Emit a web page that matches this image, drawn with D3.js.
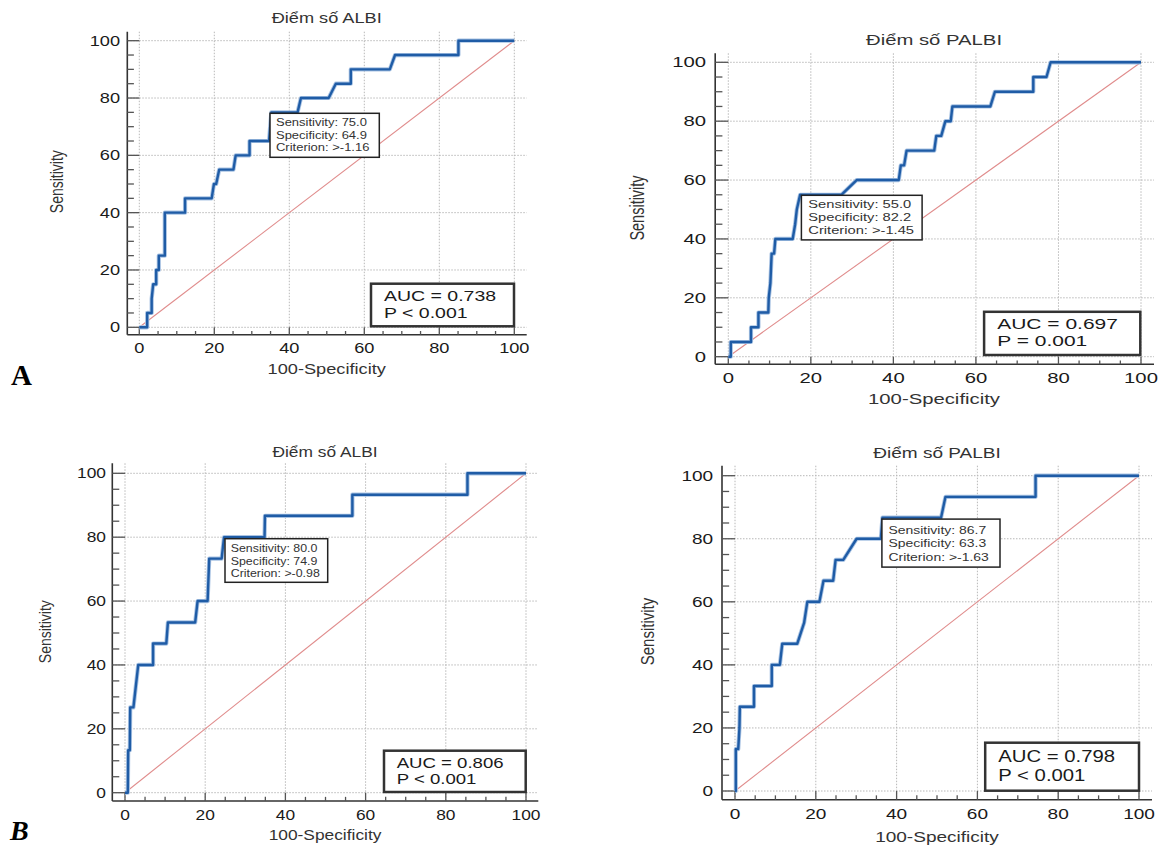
<!DOCTYPE html>
<html>
<head>
<meta charset="utf-8">
<script src="https://cdn.jsdelivr.net/npm/d3@7"></script>
<style>
  body { margin: 0; background: #fff; }
  svg { display: block; font-family: 'Liberation Sans', Arial, sans-serif; }
  .grid { stroke: #b8b8b8; stroke-width: 1; stroke-dasharray: 1.5 1.5; }
  .axis { stroke: #333; stroke-width: 1.6; }
  .tick { stroke: #555; stroke-width: 1.3; }
</style>
</head>
<body>
<svg width="1162" height="846"></svg>
<script>
'use strict'

// chart values
const panelTitles = ['Điểm số ALBI', 'Điểm số PALBI', 'Điểm số ALBI', 'Điểm số PALBI']
const xTitle = '100-Specificity'
const yTitle = 'Sensitivity'
const majorTicks = [0, 20, 40, 60, 80, 100]
const minorTicks = [5, 10, 15, 25, 30, 35, 45, 50, 55, 65, 70, 75, 85, 90, 95]

const albiTopFpr = [0, 2.1, 2.1, 3.3, 3.3, 3.7, 4.5, 4.5, 5.2, 5.2, 6.8, 6.8, 12.2, 12.2, 19.3, 19.9, 20.5, 21.3, 25.1, 25.7,
    29.4, 29.4, 34.6, 34.9, 35.2, 42.2, 43.1, 50.5, 52.4, 56.4, 56.4, 66.8, 68.2, 85.1, 85.1, 100]
const albiTopSens = [0, 0, 5, 5, 10, 15, 15, 20, 20, 25, 25, 40, 40, 45, 45, 50, 50, 55, 55, 60,
    60, 65, 65, 70, 75, 75, 80, 80, 85, 85, 90, 90, 95, 95, 100, 100]

const palbiTopFpr = [0, 0.6, 0.6, 5.5, 5.5, 7.3, 7.3, 9.7, 9.8, 10.2, 10.5, 11.1, 11.4, 15.6, 16.2, 16.6, 17.4, 27.4, 31.1, 41.3,
    41.8, 42.6, 43.2, 49.9, 50.4, 51.6, 52.6, 53.9, 54.3, 63.5, 64.6, 73.9, 73.9, 77.1, 78.1, 100]
const palbiTopSens = [0, 0, 5, 5, 10, 10, 15, 15, 20, 25, 35, 35, 40, 40, 45, 50, 55, 55, 60, 60,
    65, 65, 70, 70, 75, 75, 80, 80, 85, 85, 90, 90, 95, 95, 100, 100]

const albiBottomFpr = [0, 0.7, 0.8, 1.2, 1.3, 2.1, 3.3, 7.0, 7.0, 10.3, 10.7, 17.5, 18.1, 20.6, 21.0, 24.1, 24.7, 34.8,
    34.9, 56.7, 56.7, 85.4, 85.4, 100]
const albiBottomSens = [0, 0, 13.3, 13.3, 26.7, 26.7, 40, 40, 46.7, 46.7, 53.3, 53.3, 60, 60, 73.3, 73.3, 80, 80,
    86.7, 86.7, 93.3, 93.3, 100, 100]

const palbiBottomFpr = [0, 0.2, 0.2, 0.8, 1.1, 1.2, 4.7, 4.7, 9.1, 9.1, 11.1, 11.7, 15.4, 17.1, 17.9, 20.9, 21.9, 24.3,
    24.9, 26.8, 30.1, 36.1, 36.5, 51.0, 52.1, 74.4, 74.4, 100]
const palbiBottomSens = [0, 0, 13.3, 13.3, 20, 26.7, 26.7, 33.3, 33.3, 40, 40, 46.7, 46.7, 53.3, 60, 60, 66.7, 66.7,
    73.3, 73.3, 80, 80, 86.7, 86.7, 93.3, 93.3, 100, 100]

const cutSens = ['75.0', '55.0', '80.0', '86.7']
const cutSpec = ['64.9', '82.2', '74.9', '63.3']
const cutCrit = ['>-1.16', '>-1.45', '>-0.98', '>-1.63']
const aucValues = ['0.738', '0.697', '0.806', '0.798']
const pTexts = ['P < 0.001', 'P = 0.001', 'P < 0.001', 'P < 0.001']

const curves = [
    [albiTopFpr, albiTopSens],
    [palbiTopFpr, palbiTopSens],
    [albiBottomFpr, albiBottomSens],
    [palbiBottomFpr, palbiBottomSens]
]

// where each panel sits on the page (the source panels are stretched sideways)
const layout = [
    { x0: 139.3, x1: 514.3, y0: 327.3, y1: 40.7, axL: 127.3, axB: 334.7, axT: 31.7, axR: 526.7,
      titleX: 326.7, titleY: 18.3, xlabY: 369.3, ylabX: 56.7, ylabY: 181.7, yTickX: 120, xTickY: 347.7,
      note: [270, 113.3, 379.3, 157.3], noteX: 276, noteY: [122.7, 135.3, 147.7],
      auc: [371, 283.7, 514, 326.3], aucX: 384, aucY: [295.7, 312.3], fs: 14, sx: 1.3, noteFs: 10, aucFs: 15 },
    { x0: 728.3, x1: 1141, y0: 356.7, y1: 62.3, axL: 715.2, axB: 364.3, axT: 53.3, axR: 1154,
      titleX: 934, titleY: 40, xlabY: 399.2, ylabX: 637, ylabY: 208, yTickX: 706, xTickY: 377.6,
      note: [801.4, 195.3, 922.1, 239.9], noteX: 808.3, noteY: [204.7, 217.6, 230.6],
      auc: [984.1, 311.8, 1140.3, 355], aucX: 997.2, aucY: [323.4, 341], fs: 14.5, sx: 1.4, noteFs: 10.5, aucFs: 15 },
    { x0: 125, x1: 526, y0: 792.7, y1: 473.3, axL: 112.3, axB: 801, axT: 463.3, axR: 538.3,
      titleX: 325, titleY: 451.7, xlabY: 835, ylabX: 45, ylabY: 631.7, yTickX: 106, xTickY: 815,
      note: [225, 538.7, 327.7, 582.3], noteX: 230.7, noteY: [548.3, 561, 573.7],
      auc: [384, 750.7, 525.7, 792], aucX: 396.7, aucY: [762.7, 779], fs: 14, sx: 1.24, noteFs: 10, aucFs: 15 },
    { x0: 735, x1: 1139, y0: 791, y1: 475.7, axL: 722, axB: 799.7, axT: 465.7, axR: 1152,
      titleX: 937, titleY: 452.3, xlabY: 836.8, ylabX: 647.6, ylabY: 631.5, yTickX: 713.2, xTickY: 813.4,
      note: [881.9, 519.1, 1000, 567.1], noteX: 888.4, noteY: [529.8, 543.4, 557.1],
      auc: [985.2, 742.7, 1139, 790.7], aucX: 998.3, aucY: [756, 775], fs: 15, sx: 1.27, noteFs: 11, aucFs: 16 }
]

const svg = d3.select('svg')

function label(g, x, y, str, size, sx, anchor, rotate) {
    const tf = rotate
        ? `translate(${x},${y}) rotate(-90) scale(1,${sx})`
        : `translate(${x},${y}) scale(${sx},1)`
    return g.append('text')
        .attr('transform', tf)
        .attr('text-anchor', anchor)
        .attr('dy', '0.35em')
        .style('font-size', size + 'px')
        .attr('fill', '#1a1a1a')
        .text(str)
}

layout.forEach((L, i) => {
    const g = svg.append('g')
    const x = d3.scaleLinear().domain([0, 100]).range([L.x0, L.x1])
    const y = d3.scaleLinear().domain([0, 100]).range([L.y0, L.y1])

    // dotted grid
    g.selectAll('.vg').data(majorTicks).enter().append('line')
        .attr('class', 'grid')
        .attr('x1', d => x(d)).attr('x2', d => x(d))
        .attr('y1', L.axT).attr('y2', L.axB)
    g.selectAll('.hg').data(majorTicks).enter().append('line')
        .attr('class', 'grid')
        .attr('x1', L.axL).attr('x2', L.axR)
        .attr('y1', d => y(d)).attr('y2', d => y(d))

    // axes with ticks pointing into the gap
    g.append('line').attr('class', 'axis')
        .attr('x1', L.axL).attr('x2', L.axL).attr('y1', L.axT).attr('y2', L.axB)
    g.append('line').attr('class', 'axis')
        .attr('x1', L.axL).attr('x2', L.axR).attr('y1', L.axB).attr('y2', L.axB)

    const gapX = L.x0 - L.axL
    const gapY = L.axB - L.y0
    g.selectAll('.ytm').data(majorTicks).enter().append('line')
        .attr('class', 'tick')
        .attr('x1', L.axL).attr('x2', L.axL + gapX)
        .attr('y1', d => y(d)).attr('y2', d => y(d))
    g.selectAll('.ytn').data(minorTicks).enter().append('line')
        .attr('class', 'tick')
        .attr('x1', L.axL).attr('x2', L.axL + gapX * 0.55)
        .attr('y1', d => y(d)).attr('y2', d => y(d))
    g.selectAll('.xtm').data(majorTicks).enter().append('line')
        .attr('class', 'tick')
        .attr('x1', d => x(d)).attr('x2', d => x(d))
        .attr('y1', L.axB).attr('y2', L.axB - gapY)
    g.selectAll('.xtn').data(minorTicks).enter().append('line')
        .attr('class', 'tick')
        .attr('x1', d => x(d)).attr('x2', d => x(d))
        .attr('y1', L.axB).attr('y2', L.axB - gapY * 0.5)

    majorTicks.forEach(t => {
        label(g, L.yTickX, y(t), t, L.fs, L.sx, 'end')
        label(g, x(t), L.xTickY, t, L.fs, L.sx, 'middle')
    })

    // reference diagonal
    g.append('line')
        .attr('x1', x(0)).attr('y1', y(0)).attr('x2', x(100)).attr('y2', y(100))
        .attr('stroke', '#e08c8c').attr('stroke-width', 1.1)

    // ROC curve
    const pts = curves[i][0].map((v, k) => [v, curves[i][1][k]])
    const line = d3.line().x(d => x(d[0])).y(d => y(d[1]))
    g.append('path').datum(pts).attr('d', line)
        .attr('fill', 'none').attr('stroke', '#a9c3e3').attr('stroke-width', 4.2)
        .attr('stroke-linejoin', 'round')
    g.append('path').datum(pts).attr('d', line)
        .attr('fill', 'none').attr('stroke', '#1f5ca6').attr('stroke-width', 2.4)
        .attr('stroke-linejoin', 'round')

    // cut-off box
    const n = L.note
    g.append('rect')
        .attr('x', n[0]).attr('y', n[1]).attr('width', n[2] - n[0]).attr('height', n[3] - n[1])
        .attr('fill', '#fff').attr('stroke', '#222').attr('stroke-width', 1.5)
    const noteLines = ['Sensitivity: ' + cutSens[i], 'Specificity: ' + cutSpec[i], 'Criterion: ' + cutCrit[i]]
    noteLines.forEach((s, k) => label(g, L.noteX, L.noteY[k], s, L.noteFs, L.sx, 'start').attr('fill', '#333'))

    // AUC box
    const a = L.auc
    g.append('rect')
        .attr('x', a[0]).attr('y', a[1]).attr('width', a[2] - a[0]).attr('height', a[3] - a[1])
        .attr('fill', '#fff').attr('stroke', '#333').attr('stroke-width', 2.5)
    label(g, L.aucX, L.aucY[0], 'AUC = ' + aucValues[i], L.aucFs, L.sx, 'start')
    label(g, L.aucX, L.aucY[1], pTexts[i], L.aucFs, L.sx, 'start')

    // titles
    label(g, L.titleX, L.titleY, panelTitles[i], L.fs, L.sx, 'middle').attr('fill', '#333')
    label(g, L.titleX, L.xlabY, xTitle, L.fs, L.sx, 'middle').attr('fill', '#333')
    label(g, L.ylabX, L.ylabY, yTitle, L.fs, L.sx, 'middle', true).attr('fill', '#333')
})

// panel letters
svg.append('text').attr('x', 11).attr('y', 385)
    .style('font-family', "'Liberation Serif', 'Times New Roman', serif")
    .style('font-size', '29px').style('font-weight', 'bold').text('A')
svg.append('text').attr('x', 10).attr('y', 840)
    .style('font-family', "'Liberation Serif', 'Times New Roman', serif")
    .style('font-size', '28px').style('font-weight', 'bold').style('font-style', 'italic').text('B')
</script>
</body>
</html>
